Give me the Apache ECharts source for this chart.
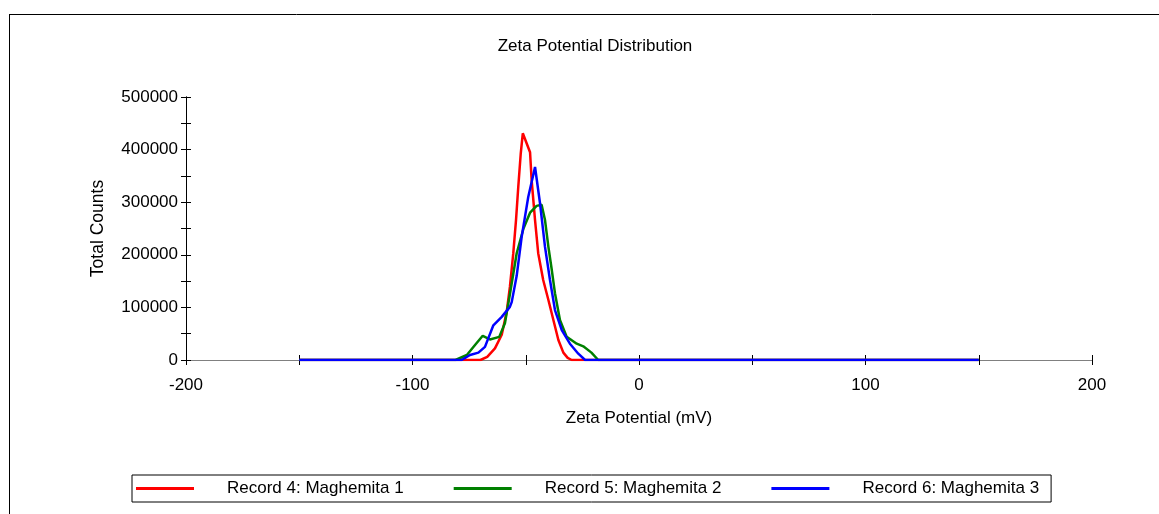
<!DOCTYPE html>
<html>
<head>
<meta charset="utf-8">
<title>Zeta Potential Distribution</title>
<script src="https://cdn.jsdelivr.net/npm/echarts@6/dist/echarts.min.js"></script>
<style>
  html, body { margin: 0; padding: 0; background: #fff; }
  #chart { width: 1159px; height: 514px; }
</style>
</head>
<body>
<div id="chart"></div>
<script>
// series names
var names = ['Record 4: Maghemita 1', 'Record 5: Maghemita 2', 'Record 6: Maghemita 3']

// Record 4 (red)
var x4 = [-150, -70, -67, -63.6, -60.6, -58.4, -57, -55.5, -54.3, -53.3, -52.2, -51.3, -48.1, -47.4, -45.9, -44.5, -42.3, -40, -37.8, -35.6, -33.4, -31.5, -29.7, 150]
var y4 = [0, 0, 6000, 22000, 48000, 92000, 139000, 203000, 266000, 329000, 393000, 431000, 395000, 342000, 266000, 203000, 152000, 114000, 76000, 38000, 14000, 4000, 0, 0]

// Record 5 (green)
var x5 = [-150, -81, -76, -72.4, -69, -65.8, -61.7, -59.2, -57, -54, -51, -48.1, -45.2, -43, -41.5, -40, -38.5, -37.1, -34.9, -31.9, -30.5, -27.5, -24.6, -21, -18, 150]
var y5 = [0, 0, 9500, 28500, 46000, 39000, 44000, 70000, 125000, 203000, 250000, 280000, 293000, 295000, 266000, 215000, 171000, 127000, 76000, 44000, 40000, 31000, 26000, 14000, 0, 0]

// Record 6 (blue)
var x6 = [-150, -78.3, -74.6, -70.9, -68, -64.3, -60.6, -57, -56.2, -54, -51.8, -48.9, -45.9, -43.7, -41.5, -39.3, -37.1, -34.1, -30.5, -26.8, -23.8, 150]
var y6 = [0, 0, 9500, 14000, 25000, 66000, 82000, 101000, 110000, 160000, 234000, 310000, 367000, 298000, 215000, 152000, 95000, 57000, 31000, 12000, 0, 0]

var colors = ['#ff0000', '#008000', '#0000ff']

function zip(xs, ys) {
  return xs.map(function (x, i) { return [x, ys[i]] })
}

var font = 'Liberation Sans, Arial, sans-serif'
var chart = echarts.init(document.getElementById('chart'))

var xBase = {
  type: 'value',
  min: -200,
  max: 200,
  interval: 50,
  position: 'bottom',
  splitLine: { show: false },
  axisLine: { onZero: false, lineStyle: { color: '#808080', width: 1 } },
}
var yBase = {
  type: 'value',
  min: 0,
  max: 500000,
  interval: 50000,
  position: 'left',
  splitLine: { show: false },
  axisLine: { onZero: false, lineStyle: { color: '#000', width: 1 } },
}

var option = {
  animation: false,
  color: colors,
  title: {
    text: 'Zeta Potential Distribution',
    left: 590,
    textAlign: 'center',
    top: 33,
    textStyle: { fontFamily: font, fontSize: 17, fontWeight: 'normal', color: '#000' },
  },
  legend: {
    data: names,
    left: 132,
    top: 475,
    width: 940,
    itemWidth: 58,
    itemHeight: 3,
    itemGap: 50,
    padding: [5, 12, 5, 4],
    borderColor: '#000',
    borderWidth: 1,
    icon: 'rect',
    textStyle: { fontFamily: font, fontSize: 17, color: '#000', padding: [0, 0, 0, 28] },
  },
  graphic: [
    { type: 'line', shape: { x1: 9, y1: 14.5, x2: 1159, y2: 14.5 }, style: { stroke: '#000', lineWidth: 1 } },
    { type: 'line', shape: { x1: 9.5, y1: 14, x2: 9.5, y2: 514 }, style: { stroke: '#000', lineWidth: 1 } },
  ],
  grid: { left: 186, right: 67, top: 97, bottom: 154 },
  xAxis: [
    Object.assign({}, xBase, {
      name: 'Zeta Potential (mV)',
      nameLocation: 'middle',
      nameGap: 50,
      nameTextStyle: { fontFamily: font, fontSize: 17, color: '#000' },
      axisTick: { show: true, inside: false, length: 5, lineStyle: { color: '#000' } },
      axisLabel: {
        margin: 17,
        fontFamily: font,
        fontSize: 17,
        color: '#000',
        formatter: function (v) { return v % 100 === 0 ? String(v) : '' },
      },
    }),
    Object.assign({}, xBase, {
      axisTick: { show: true, inside: true, length: 5, lineStyle: { color: '#000' } },
      axisLabel: { show: false },
    }),
  ],
  yAxis: [
    Object.assign({}, yBase, {
      name: 'Total Counts',
      nameLocation: 'middle',
      nameGap: 79,
      nameTextStyle: { fontFamily: font, fontSize: 17.5, color: '#000' },
      axisTick: { show: true, inside: false, length: 5, lineStyle: { color: '#000' } },
      axisLabel: {
        margin: 8,
        fontFamily: font,
        fontSize: 17,
        color: '#000',
        formatter: function (v) { return v % 100000 === 0 ? String(v) : '' },
      },
    }),
    Object.assign({}, yBase, {
      axisTick: { show: true, inside: true, length: 5, lineStyle: { color: '#000' } },
      axisLabel: { show: false },
    }),
  ],
  series: [
    { name: names[0], type: 'line', data: zip(x4, y4) },
    { name: names[1], type: 'line', data: zip(x5, y5) },
    { name: names[2], type: 'line', data: zip(x6, y6) },
  ].map(function (s, i) {
    s.showSymbol = false
    s.symbol = 'none'
    s.lineStyle = { width: 2.5, color: colors[i] }
    return s
  }),
}

chart.setOption(option)
</script>
</body>
</html>
